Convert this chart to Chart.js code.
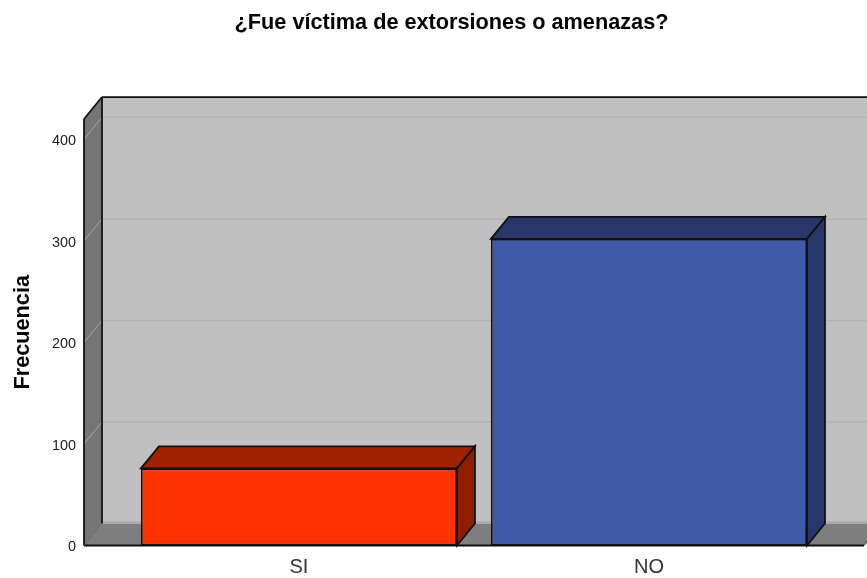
<!DOCTYPE html>
<html>
<head>
<meta charset="utf-8">
<title>¿Fue víctima de extorsiones o amenazas?</title>
<script src="https://cdn.jsdelivr.net/npm/chart.js@4"></script>
<style>
  html, body { margin: 0; padding: 0; background: #fff; }
  #wrap { width: 867px; height: 578px; }
</style>
</head>
<body>
<div id="wrap"><canvas id="chart"></canvas></div>
<script>
const categories = ['SI', 'NO']
const frecuencia = [76, 302]
const yTicks = [0, 100, 200, 300, 400]

const frontColors = ['#ff3300', '#3f5aa8']
const topColors = ['#9e2200', '#27376b']
const sideColors = ['#8f1e00', '#27376b']

// depth of the fake 3D box, in pixels
const DX = 18
const DY = 22

function poly(ctx, pts, fill, stroke, width) {
  ctx.beginPath()
  pts.forEach((p, i) => (i ? ctx.lineTo(p[0], p[1]) : ctx.moveTo(p[0], p[1])))
  ctx.closePath()
  if (fill) {
    ctx.fillStyle = fill
    ctx.fill()
  }
  if (stroke) {
    ctx.strokeStyle = stroke
    ctx.lineWidth = width
    ctx.stroke()
  }
}

function line(ctx, x1, y1, x2, y2, color, width) {
  ctx.beginPath()
  ctx.moveTo(x1, y1)
  ctx.lineTo(x2, y2)
  ctx.strokeStyle = color
  ctx.lineWidth = width
  ctx.stroke()
}

const box3d = {
  id: 'box3d',
  afterLayout(chart) {
    // title is centred a bit right of the canvas middle
    chart.titleBlock.right = chart.width + 36
  },
  beforeDatasetsDraw(chart) {
    const { ctx, chartArea: a, scales } = chart
    const right = a.right + DX
    const floorRight = a.right - 3

    ctx.save()
    // back wall
    poly(ctx, [[a.left + DX, a.top - DY], [right, a.top - DY], [right, a.bottom - DY], [a.left + DX, a.bottom - DY]], '#c0c0c0')
    // floor
    poly(ctx, [[a.left, a.bottom], [a.left + DX, a.bottom - DY], [floorRight + DX, a.bottom - DY], [floorRight, a.bottom]], '#7e7e7e')
    line(ctx, a.left + DX, a.bottom - DY - 1, right, a.bottom - DY - 1, '#a8a8a8', 2)
    // left wall
    poly(ctx, [[a.left, a.top], [a.left + DX, a.top - DY], [a.left + DX, a.bottom - DY], [a.left, a.bottom]], '#757575')

    // grid lines on the wall, one per tick
    yTicks.slice(1).forEach((v) => {
      const y = scales.y.getPixelForValue(v)
      line(ctx, a.left + DX, y - DY, right, y - DY, '#b2b2b2', 1.5)
      line(ctx, a.left, y, a.left + DX, y - DY, '#a6a6a6', 1)
    })

    // box outline
    line(ctx, a.left, a.top, a.left + DX, a.top - DY, '#111', 1.8)
    line(ctx, a.left + DX, a.top - DY, right, a.top - DY, '#111', 1.8)
    line(ctx, a.left + DX, a.top - DY, a.left + DX, a.bottom - DY, '#111', 1.8)
    line(ctx, a.left, a.top, a.left, a.bottom, '#111', 1.8)
    line(ctx, a.left, a.bottom, a.left + DX, a.bottom - DY, '#666', 1)
    line(ctx, a.left, a.bottom, floorRight, a.bottom, '#111', 1.8)
    line(ctx, floorRight, a.bottom, floorRight + DX, a.bottom - DY, '#333', 1)

    // top and side faces of each bar
    chart.getDatasetMeta(0).data.forEach((bar, i) => {
      const p = bar.getProps(['x', 'y', 'base', 'width'], true)
      const l = p.x - p.width / 2
      const r = p.x + p.width / 2
      poly(ctx, [[l, p.y], [l + DX, p.y - DY], [r + DX, p.y - DY], [r, p.y]], topColors[i], '#111', 1.8)
      poly(ctx, [[r, p.y], [r + DX, p.y - DY], [r + DX, p.base - DY], [r, p.base]], sideColors[i], '#111', 1.8)
    })
    ctx.restore()
  },
}

new Chart(document.getElementById('chart'), {
  type: 'bar',
  data: {
    datasets: [
      {
        label: 'Frecuencia',
        data: frecuencia.map((v, i) => ({ x: i, y: v })),
        backgroundColor: frontColors,
        borderColor: '#111',
        borderWidth: 1.8,
        borderSkipped: false,
        barPercentage: 0.903,
        categoryPercentage: 1,
      },
    ],
  },
  options: {
    responsive: true,
    maintainAspectRatio: false,
    animation: false,
    layout: { padding: 0 },
    scales: {
      x: {
        type: 'linear',
        offset: false,
        min: -0.614,
        max: 1.623,
        afterBuildTicks(scale) {
          scale.ticks = categories.map((c, i) => ({ value: i }))
        },
        afterFit(scale) {
          scale.height = 32.5
        },
        grid: { display: false, drawTicks: false },
        border: { display: false },
        ticks: {
          autoSkip: false,
          maxRotation: 0,
          padding: 9.5,
          color: '#333',
          font: { family: '"Liberation Sans", Arial, sans-serif', size: 20 },
          callback: (v) => categories[v],
        },
      },
      y: {
        min: 0,
        max: 420,
        afterBuildTicks(scale) {
          scale.ticks = yTicks.map((v) => ({ value: v }))
        },
        afterFit(scale) {
          scale.width = 84
        },
        grid: { display: false, drawTicks: false },
        border: { display: false },
        ticks: {
          padding: 8,
          labelOffset: 2,
          color: '#222',
          font: { family: '"Liberation Sans", Arial, sans-serif', size: 14.4 },
        },
        title: {
          display: true,
          text: 'Frecuencia',
          color: '#000',
          padding: { top: 10, bottom: 0 },
          font: { family: '"Liberation Sans", Arial, sans-serif', size: 21.7, weight: 'bold' },
        },
      },
    },
    plugins: {
      legend: { display: false },
      tooltip: { enabled: false },
      title: {
        display: true,
        text: '¿Fue víctima de extorsiones o amenazas?',
        color: '#000',
        padding: { top: 10, bottom: 83 },
        font: { family: '"Liberation Sans", Arial, sans-serif', size: 21.7, weight: 'bold' },
      },
    },
  },
  plugins: [box3d],
})
</script>
</body>
</html>
